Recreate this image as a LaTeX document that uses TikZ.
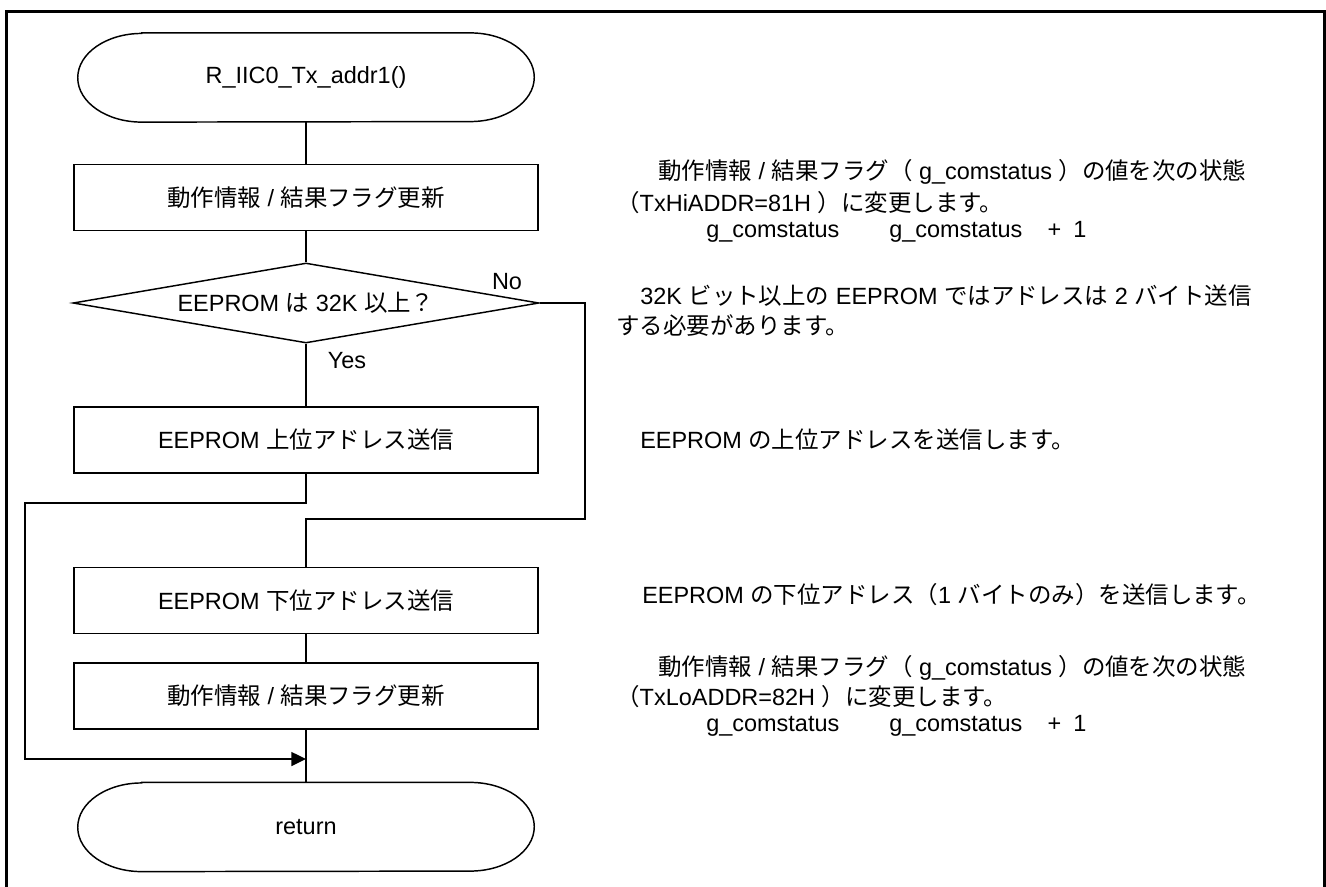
\documentclass[tikz,border=0pt]{standalone}
\usepackage{fontspec}
\setmainfont{Liberation Sans}
\newfontfamily\jp{Noto Sans CJK JP}
\usetikzlibrary{shapes.geometric,arrows.meta}
\newcommand{\fs}{\fontsize{17.6pt}{20pt}\selectfont}
\newcommand{\termpath}[1]{%
  \draw[flow] ([xshift=48pt]#1.north west) -- ([xshift=-48pt]#1.north east)
    arc[start angle=90,end angle=-90,x radius=48pt,y radius=33.25pt]
    -- ([xshift=48pt]#1.south west)
    arc[start angle=270,end angle=90,x radius=48pt,y radius=33.25pt] -- cycle;}
\begin{document}
\begin{tikzpicture}[x=0.75pt,y=-0.75pt,
  flow/.style={line width=1.1pt},
  proc/.style={draw, line width=1.1pt, minimum width=348pt, minimum height=49.5pt, inner sep=0pt, font=\fs},
  term/.style={minimum width=342pt, minimum height=66.5pt, inner sep=0pt, font=\fs},
  decision/.style={draw, diamond, aspect=5.8, minimum width=349.5pt, minimum height=60pt, inner sep=0pt, font=\fs, line width=1.1pt},
  note/.style={anchor=west, inner sep=0pt, font=\fs},
  lbl/.style={inner sep=0pt, font=\fs},
  tip/.style={-{Triangle[length=11pt,width=10.5pt]}}]
\useasboundingbox (0,0) rectangle (1326,886);
\clip (0,0) rectangle (1326,886);
\draw[line width=2pt] (6.7,11.3) rectangle (1324.7,900);

% flowchart nodes
\node[term] (start) at (306,77.5) {R\_IIC0\_Tx\_addr1()};
\termpath{start}
\node[proc] (b1) at (306,197.5) {{\jp 動作情報} / {\jp 結果フラグ更新}};
\node[decision] (dec) at (306,303) {EEPROM {\jp は} 32K {\jp 以上？}};
\node[proc] (b2) at (306,440) {EEPROM {\jp 上位アドレス送信}};
\node[proc] (b3) at (306,600.5) {EEPROM {\jp 下位アドレス送信}};
\node[proc] (b4) at (306,696) {{\jp 動作情報} / {\jp 結果フラグ更新}};
\node[term] (ret) at (306,827) {return};
\termpath{ret}

\node[lbl] (yes) at (347,361) {Yes};
\node[lbl] (no) at (507,282) {No};

% coordinates
\coordinate (lj) at (306,503);
\coordinate (lc) at (25,503);
\coordinate (m) at (306,759);
\coordinate (nr) at (585,519);
\coordinate (nj) at (306,519);

% connectors
\draw[flow] (start.south) -- (b1.north);
\draw[flow] (b1.south) -- (dec.north);
\draw[flow] (dec.south) -- (b2.north);
\draw[flow] (dec.east) -| (nr) -- (nj) -- (b3.north);
\draw[flow] (b3.south) -- (b4.north);
\draw[flow] (b4.south) -- (ret.north);
\draw[flow,tip] (b2.south) -- (lj) -- (lc) |- (m);

% annotations
\node[note] (a1) at (658,172) {{\jp 動作情報} / {\jp 結果フラグ（} g\_comstatus {\jp ）の値を次の状態}};
\node[note] (a1b) at (616,203) {{\jp （}TxHiADDR=81H {\jp ）に変更します。}};
\node[note] (a1c) at (706,232) {g\_comstatus\hspace{37.5pt}g\_comstatus\hspace{19pt}+\hspace{9pt}1};
\node[note] (a2) at (640,296) {32K {\jp ビット以上の} EEPROM {\jp ではアドレスは} 2 {\jp バイト送信}};
\node[note] (a2b) at (616,326) {{\jp する必要があります。}};
\node[note] (a3) at (640,440) {EEPROM {\jp の上位アドレスを送信します。}};
\node[note] (a4) at (642,595) {EEPROM {\jp の下位アドレス（}1 {\jp バイトのみ）を送信します。}};
\node[note] (a5) at (658,668) {{\jp 動作情報} / {\jp 結果フラグ（} g\_comstatus {\jp ）の値を次の状態}};
\node[note] (a5b) at (616,697) {{\jp （}TxLoADDR=82H {\jp ）に変更します。}};
\node[note] (a5c) at (706,726) {g\_comstatus\hspace{37.5pt}g\_comstatus\hspace{19pt}+\hspace{9pt}1};
\end{tikzpicture}
\end{document}
